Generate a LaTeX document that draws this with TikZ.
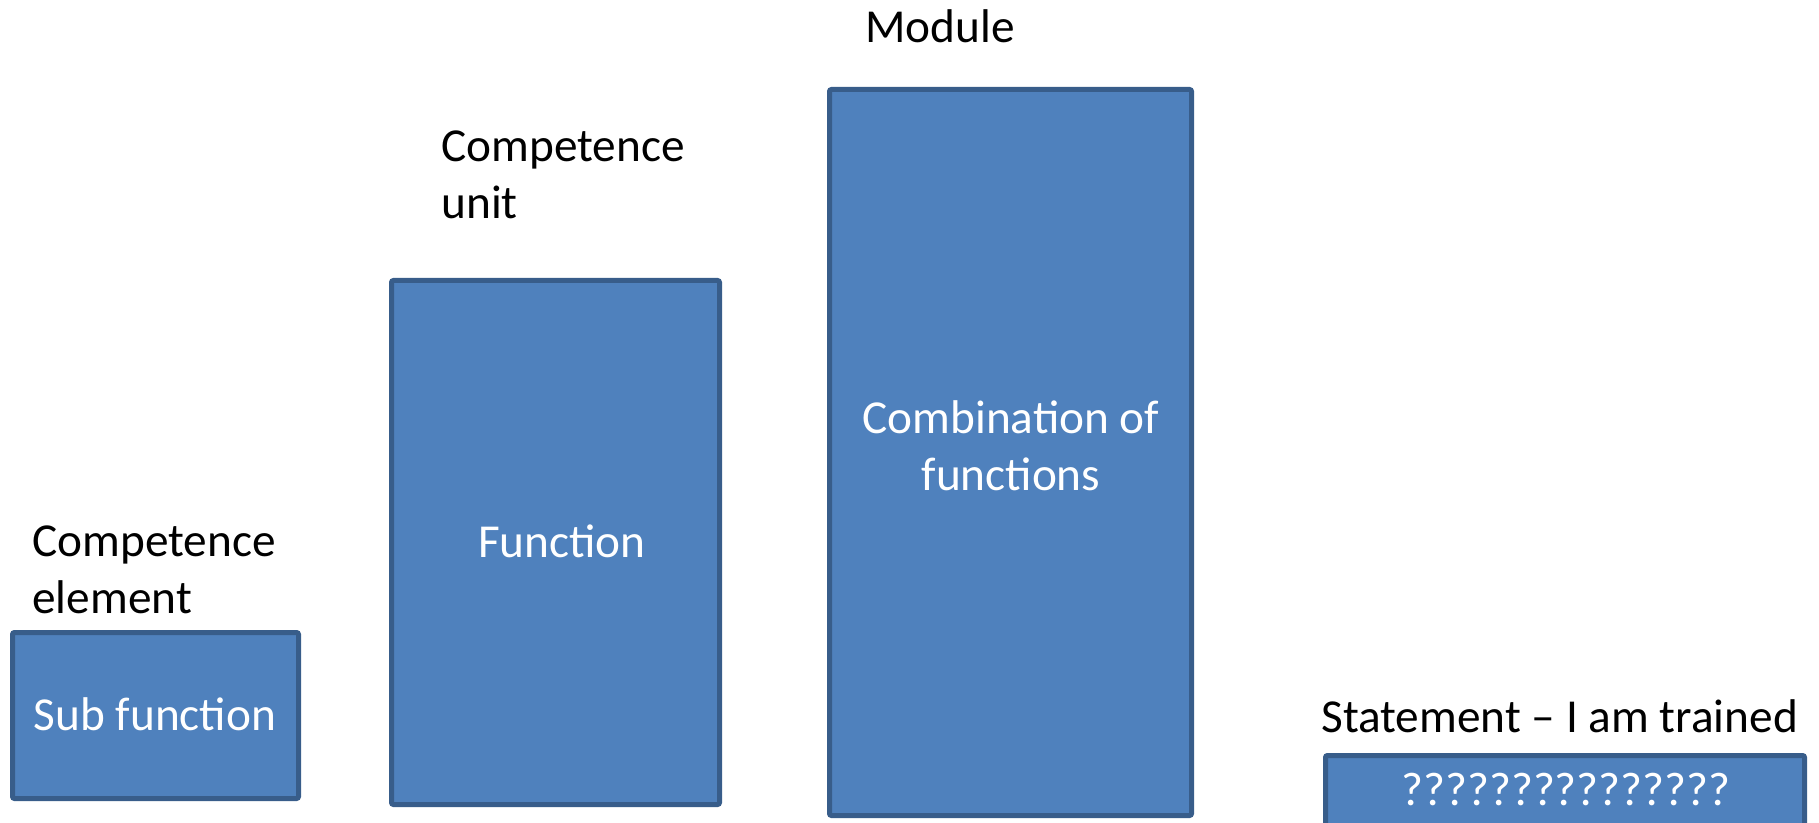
\documentclass[tikz,border=0pt]{standalone}
\usepackage{fontspec}
\setmainfont{Carlito}
\definecolor{boxfill}{HTML}{4F81BD}
\definecolor{boxline}{HTML}{385D8A}
\tikzset{
  box/.style={draw=boxline, fill=boxfill, line width=2.5pt, rounded corners=1pt, inner sep=0pt, anchor=north west},
  lbl/.style={inner sep=0pt, anchor=base west, font=\fontsize{23.65}{28.5}\selectfont, align=left},
  intext/.style={inner sep=0pt, anchor=base, text=white, font=\fontsize{23.65}{28.5}\selectfont},
}
\begin{document}
\begin{tikzpicture}[x=0.5pt,y=-0.5pt]
\useasboundingbox (0,0) rectangle (1819,823);
\clip (0,0) rectangle (1819,823);
% boxes
\node[box, minimum width=143pt, minimum height=83pt] (sub) at (10,630) {};
\node[box, minimum width=164pt, minimum height=262pt] (fun) at (389,278) {};
\node[box, minimum width=181pt, minimum height=363pt] (mod) at (827,87) {};
\node[box, minimum width=239.5pt, minimum height=60pt] (stm) at (1323,753) {};
% labels above
\node[lbl] (lsub1) at (32,556) {Competence};
\node[lbl] (lsub2) at (32,613) {element};
\node[lbl] (lfun1) at (441,162) {Competence};
\node[lbl] (lfun2) at (441,219) {unit};
\node[lbl] (lmod) at (865,43) {Module};
\node[lbl] (lstm) at (1321,732) {Statement -- I am trained};
% texts inside
\node[intext] (tsub) at (155,730) {Sub function};
\node[intext] (tfun) at (562,557) {Function};
\node[intext] (tmod1) at (1011,433) {Combination of};
\node[intext] (tmod2) at (1011,490) {functions};
\node[intext] (tstm) at (1566,805) {???????????????};
\end{tikzpicture}
\end{document}
